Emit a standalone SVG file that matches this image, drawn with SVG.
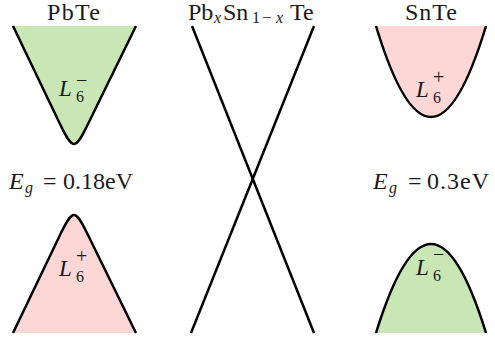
<svg xmlns="http://www.w3.org/2000/svg" width="495" height="339" viewBox="0 0 495 339">
<style>
.curve{fill:none;stroke:#000;stroke-width:2.5;stroke-linejoin:round;stroke-linecap:butt}
.green{fill:#c9e7b5;stroke:none}
.pink{fill:#fdd6d6;stroke:none}
text{fill:#1a1a1a}
.t{font-size:24px}
.e{font-size:24px}
.L{font-size:23px;font-style:italic}
.s{font-size:16px}
.p{font-size:20px}
.i{font-style:italic}
</style>
<rect width="495" height="339" fill="#fff"/>
<g font-family="'Liberation Serif', 'Times New Roman', 'DejaVu Serif', serif">
<g id="pbte">
<text class="t" x="47" y="20" textLength="53" lengthAdjust="spacing">PbTe</text>
</g>
<g id="pbte-cond">
<path class="green" d="M13,26 L60,124 C66,136.5 70,144 74,144 C78,144 82,136.5 88,124 L136,26 Z"/>
<path class="curve" d="M13,26 L60,124 C66,136.5 70,144 74,144 C78,144 82,136.5 88,124 L136,26"/>
<text class="L" x="59" y="96">L</text>
<text class="s" x="76" y="102">6</text>
<text class="p" x="76" y="87">−</text>
</g>
<g id="pbte-gap">
<text class="e i" x="9" y="189">E</text>
<text class="s i" x="25" y="193">g</text>
<text class="e" x="43" y="189">=</text>
<text class="e" x="63" y="189">0.18eV</text>
</g>
<g id="pbte-val">
<path class="pink" d="M13,333 L60,235 C66,222.5 70,215 74,215 C78,215 82,222.5 88,235 L136,333 Z"/>
<path class="curve" d="M13,333 L60,235 C66,222.5 70,215 74,215 C78,215 82,222.5 88,235 L136,333"/>
<text class="L" x="59" y="276">L</text>
<text class="s" x="76" y="282">6</text>
<text class="p" x="76" y="263">+</text>
</g>
<g id="pbsnte">
<text class="t" x="188" y="20">Pb</text>
<text class="i" font-size="16" x="214" y="23">x</text>
<text class="t" x="223" y="20">Sn</text>
<text font-size="16" x="252" y="23">1</text>
<text font-size="17" x="262" y="23">−</text>
<text class="i" font-size="16" x="276" y="23">x</text>
<text class="t" x="290" y="20">Te</text>
</g>
<g id="connectors">
<line class="curve" x1="192" y1="26" x2="314" y2="333"/>
<line class="curve" x1="314" y1="26" x2="191" y2="333"/>
</g>
<g id="snte">
<text class="t" x="405" y="20" textLength="52" lengthAdjust="spacing">SnTe</text>
</g>
<g id="snte-cond">
<path class="pink" d="M376,26 Q431,208 486,26 Z"/>
<path class="curve" d="M376,26 Q431,208 486,26"/>
<text class="L" x="416" y="97">L</text>
<text class="s" x="433" y="103">6</text>
<text class="p" x="433" y="84">+</text>
</g>
<g id="snte-gap">
<text class="e i" x="373" y="189">E</text>
<text class="s i" x="389" y="193">g</text>
<text class="e" x="408" y="189">=</text>
<text class="e" x="427" y="189" textLength="62" lengthAdjust="spacing">0.3eV</text>
</g>
<g id="snte-val">
<path class="green" d="M376,333 Q431,155 486,333 Z"/>
<path class="curve" d="M376,333 Q431,155 486,333"/>
<text class="L" x="416" y="275">L</text>
<text class="s" x="433" y="281">6</text>
<text class="p" x="433" y="261">−</text>
</g>
</g>
</svg>
